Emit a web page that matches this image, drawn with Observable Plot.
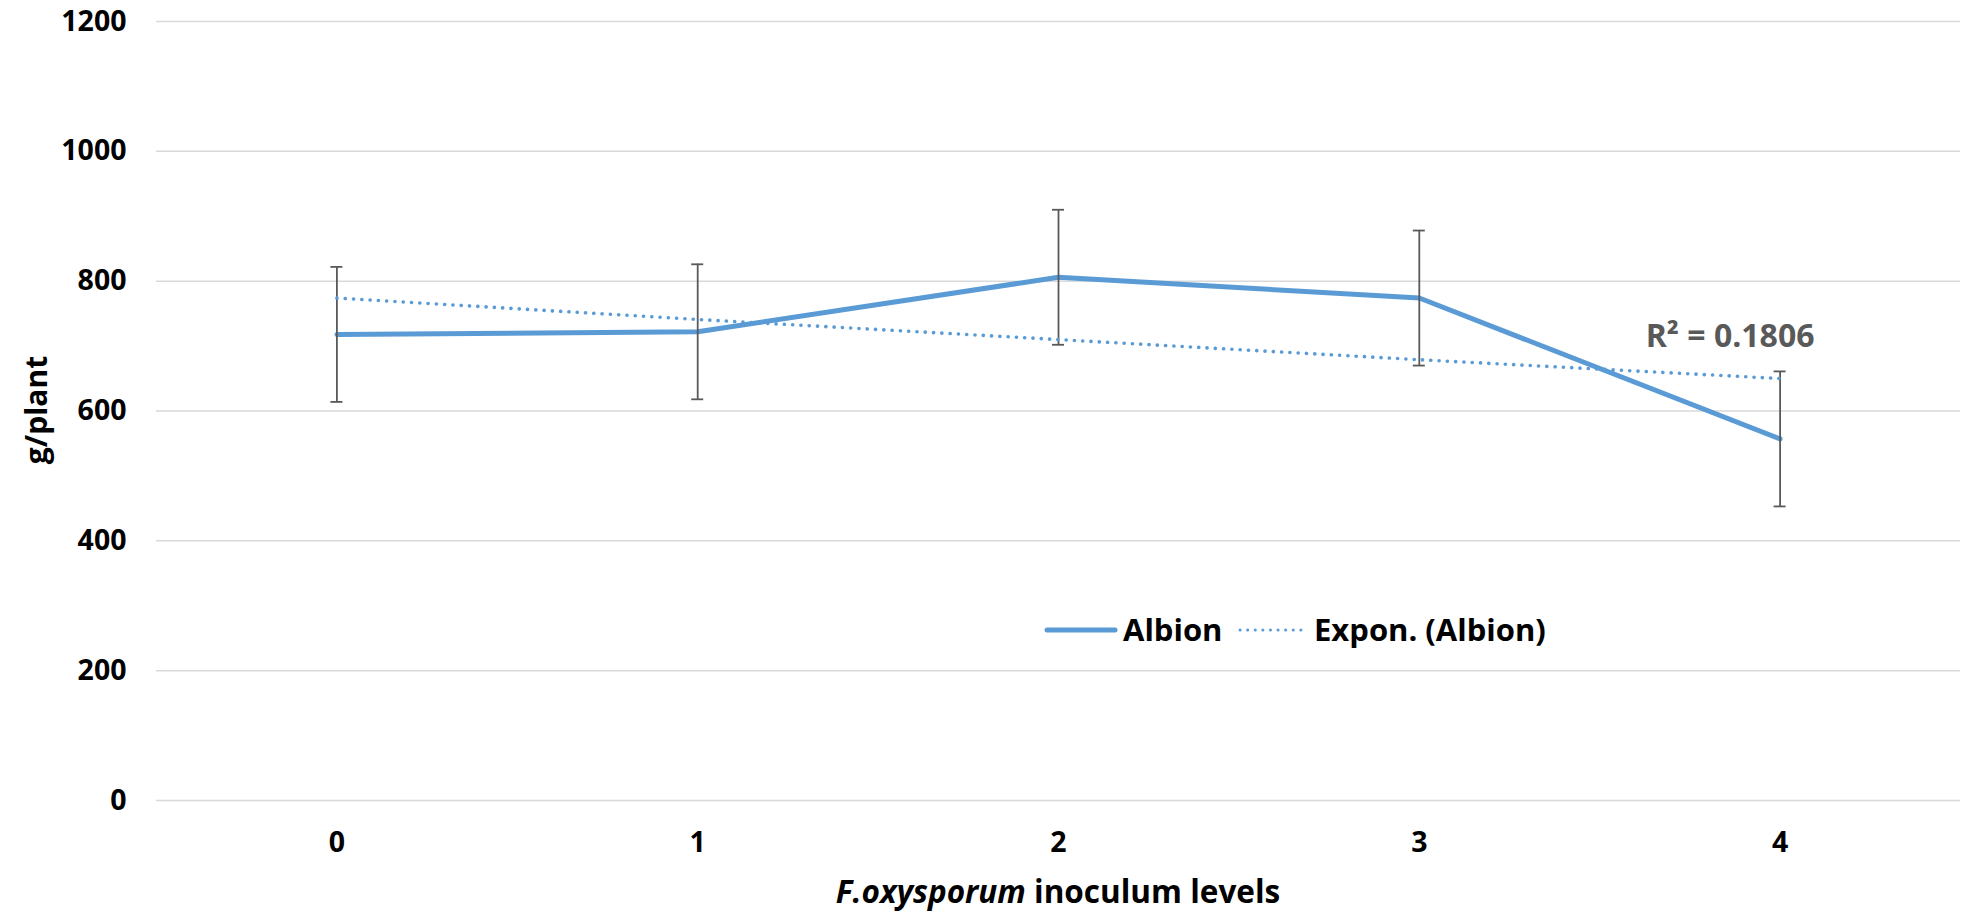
<!DOCTYPE html>
<html><head><meta charset="utf-8">
<script src="https://cdn.jsdelivr.net/npm/d3@7"></script>
<script src="https://cdn.jsdelivr.net/npm/@observablehq/plot@0.6"></script>
<style>body{margin:0;background:#fff;} svg{display:block;}</style>
</head><body><div id="chart"></div>
<script>
// ---- data ----
const levels = [0, 1, 2, 3, 4];
const albion = [718, 722, 806, 774, 557];
const albionErr = [104, 104, 104, 104, 104];
const expon = [774, 741, 710, 679, 650];
const yTicks = [0, 200, 400, 600, 800, 1000, 1200];
const seriesName = "Albion";
const trendName = "Expon. (Albion)";
const r2Label = "R² = 0.1806";
const xLabelItalic = "F.oxysporum";
const xLabelRest = " inoculum levels";
const yLabel = "g/plant";

const blue = "#5B9BD5";
const font = "'Open Sans', sans-serif";

const data = levels.map((x, i) => ({x, y: albion[i], lo: albion[i] - albionErr[i], hi: albion[i] + albionErr[i]}));
const trend = levels.map((x, i) => ({x, y: expon[i]}));
const last = trend[trend.length - 1];

const W = 1964, H = 914;
const chart = Plot.plot({
  width: W, height: H,
  marginLeft: 156, marginRight: 4, marginTop: 21, marginBottom: 114,
  style: {fontFamily: font, fontWeight: "bold", color: "#000", background: "#fff"},
  x: {type: "linear", domain: [-0.5, 4.5], axis: null},
  y: {domain: [0, 1200], axis: null},
  marks: [
    Plot.gridY(yTicks, {stroke: "#d9d9d9", strokeOpacity: 1, strokeWidth: 1.5}),
    Plot.axisY(yTicks, {tickSize: 0, tickPadding: 30, fontSize: 28.5, fontWeight: "bold", label: null, fill: "#000", tickFormat: d => String(d)}),
    Plot.axisX(levels, {tickSize: 0, tickPadding: 31, fontSize: 28.5, fontWeight: "bold", label: null, tickFormat: d => String(d), fill: "#000"}),
    Plot.line(data, {x: "x", y: "y", stroke: blue, strokeWidth: 5, strokeLinecap: "round", strokeLinejoin: "round"}),
    Plot.ruleX(data, {x: "x", y1: "lo", y2: "hi", stroke: "#595959", strokeWidth: 1.8}),
    Plot.ruleY(data, {y: "hi", x1: "x", x2: "x", insetLeft: -6, insetRight: -6, stroke: "#595959", strokeWidth: 1.8}),
    Plot.ruleY(data, {y: "lo", x1: "x", x2: "x", insetLeft: -6, insetRight: -6, stroke: "#595959", strokeWidth: 1.8}),
    Plot.line(trend, {x: "x", y: "y", stroke: blue, strokeWidth: 3.6, strokeDasharray: "0.1 8.2", strokeLinecap: "round"}),
    Plot.text([last], {x: "x", y: "y", text: () => r2Label, dx: -50, dy: -42, fontSize: 32, fontWeight: "bold", fill: "#595959"})
  ]
});

const svg = d3.select(chart);
const xs = chart.scale("x");
// x axis label with italic part
const xl = svg.append("text")
  .attr("x", xs.apply(2)).attr("y", 903)
  .attr("text-anchor", "middle")
  .attr("font-size", 31.5).attr("font-weight", "bold").attr("fill", "#000");
xl.append("tspan").attr("font-style", "italic").text(xLabelItalic);
xl.append("tspan").text(xLabelRest);
// y axis label
svg.append("text")
  .attr("transform", "translate(36,410) rotate(-90)")
  .attr("text-anchor", "middle").attr("dy", "0.35em")
  .attr("font-size", 30).attr("font-weight", "bold").attr("fill", "#000")
  .text(yLabel);
// legend (inside plot area, as in the reference)
const lg = svg.append("g").attr("font-size", 31).attr("font-weight", "bold").attr("fill", "#000").attr("text-anchor", "start");
lg.append("line").attr("x1", 1047).attr("x2", 1115).attr("y1", 630).attr("y2", 630)
  .attr("stroke", blue).attr("stroke-width", 5).attr("stroke-linecap", "round");
lg.append("text").attr("x", 1123).attr("y", 630).attr("dy", "0.35em").attr("text-anchor", "start").text(seriesName);
lg.append("line").attr("x1", 1240).attr("x2", 1307).attr("y1", 630).attr("y2", 630)
  .attr("stroke", blue).attr("stroke-width", 3).attr("stroke-dasharray", "0.1 7.5").attr("stroke-linecap", "round");
lg.append("text").attr("x", 1314).attr("y", 630).attr("dy", "0.35em").attr("text-anchor", "start").text(trendName);

document.getElementById("chart").appendChild(chart);
</script>
</body></html>
